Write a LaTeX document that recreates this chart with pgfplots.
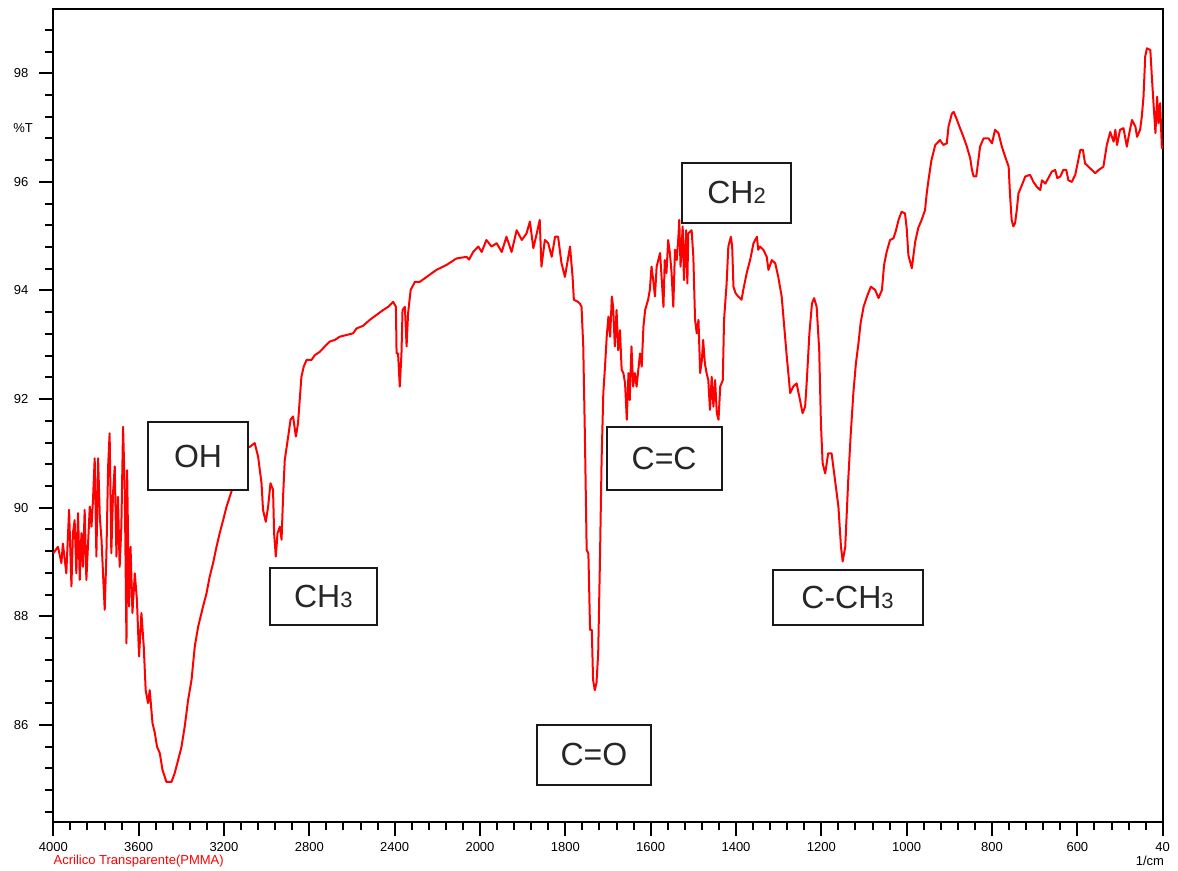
\documentclass[border=0pt]{standalone}
\usepackage{fontspec}
\setmainfont{Liberation Sans}
\usepackage{pgfplots}
\usepackage{pgfplotstable}
\pgfplotsset{compat=1.18}

% FTIR spectrum, wavenumber (1/cm) vs %T
\pgfplotstableread{
w t
4000 89.16
3978 89.28
3962 88.98
3955 89.34
3939 88.79
3926 89.96
3915 88.55
3908 89.53
3900 89.77
3892 88.79
3884 89.90
3876 88.67
3868 89.53
3861 88.91
3853 89.96
3845 88.67
3837 89.34
3829 90.02
3821 89.65
3814 90.14
3806 90.91
3798 89.10
3790 90.91
3782 89.83
3774 89.41
3767 88.79
3759 88.12
3751 89.16
3743 90.76
3736 91.37
3728 89.16
3720 90.27
3712 90.76
3704 89.10
3697 90.20
3689 88.91
3681 89.65
3673 91.49
3665 90.33
3657 87.50
3654 90.69
3645 88.18
3638 89.28
3629 88.06
3618 88.79
3608 88.30
3598 87.26
3587 88.06
3576 87.44
3567 86.64
3556 86.40
3548 86.64
3535 86.03
3524 85.85
3514 85.60
3501 85.48
3488 85.17
3470 84.95
3446 84.95
3431 85.11
3415 85.35
3399 85.60
3384 85.97
3368 86.46
3352 86.83
3337 87.44
3321 87.81
3298 88.18
3282 88.42
3267 88.73
3251 88.98
3235 89.28
3220 89.53
3204 89.77
3188 90.02
3173 90.20
3157 90.39
3126 90.76
3087 91.12
3079 91.12
3056 91.19
3040 90.94
3024 90.45
3017 89.96
3004 89.74
2993 90.02
2982 90.45
2970 90.33
2965 89.53
2957 89.10
2949 89.53
2938 89.65
2930 89.41
2923 90.20
2915 90.88
2899 91.31
2888 91.62
2876 91.68
2863 91.31
2853 91.55
2845 91.98
2837 92.41
2826 92.60
2813 92.72
2790 92.72
2774 92.81
2751 92.87
2727 92.97
2704 93.06
2680 93.09
2657 93.15
2626 93.18
2595 93.21
2579 93.30
2548 93.35
2516 93.46
2485 93.55
2454 93.64
2430 93.70
2407 93.79
2394 93.70
2391 92.84
2384 92.84
2376 92.23
2368 92.84
2363 93.64
2352 93.70
2344 92.97
2337 93.58
2325 94.01
2305 94.16
2282 94.16
2250 94.25
2204 94.38
2157 94.47
2110 94.59
2063 94.62
2051 94.57
2032 94.71
2008 94.81
1996 94.71
1985 94.93
1973 94.81
1961 94.87
1949 94.71
1938 94.99
1926 94.71
1914 95.11
1902 94.93
1891 95.05
1883 95.27
1875 94.78
1867 95.05
1860 95.30
1856 94.44
1848 94.93
1840 94.87
1832 94.62
1824 94.99
1817 94.99
1809 94.50
1801 94.25
1793 94.62
1789 94.81
1783 94.25
1780 93.83
1770 93.79
1766 93.76
1762 93.70
1758 92.97
1754 91.25
1750 89.22
1746 89.16
1742 87.75
1738 87.75
1735 86.83
1731 86.64
1727 86.77
1723 87.32
1719 88.98
1715 90.88
1711 92.11
1707 92.60
1703 93.15
1699 93.52
1695 93.15
1691 93.89
1688 93.70
1684 92.97
1680 93.64
1676 92.90
1672 93.27
1668 92.54
1664 92.48
1660 92.29
1656 91.62
1652 92.48
1649 91.98
1645 92.97
1641 92.23
1637 92.48
1633 92.23
1625 92.84
1621 92.60
1617 93.33
1613 93.64
1606 93.83
1602 94.01
1598 94.44
1594 94.19
1590 93.89
1586 94.44
1578 94.69
1574 94.19
1570 93.70
1567 94.56
1563 94.32
1559 94.93
1555 94.69
1551 94.32
1547 93.70
1543 94.75
1539 94.56
1535 94.99
1533 95.30
1530 94.44
1525 95.18
1522 94.19
1517 95.11
1514 94.13
1512 95.05
1504 95.11
1500 94.62
1496 93.46
1492 93.21
1488 93.46
1484 92.48
1480 92.72
1477 93.09
1473 92.66
1469 92.48
1465 92.35
1461 91.80
1457 92.41
1453 91.86
1449 92.35
1445 91.74
1441 91.62
1437 92.23
1431 92.35
1428 93.46
1422 94.13
1418 94.81
1412 94.99
1409 94.81
1406 94.07
1401 93.95
1395 93.89
1387 93.83
1383 94.01
1375 94.32
1367 94.56
1359 94.87
1351 94.99
1348 94.75
1344 94.81
1336 94.75
1328 94.62
1324 94.38
1316 94.56
1308 94.50
1301 94.25
1293 93.89
1289 93.52
1281 92.78
1273 92.11
1266 92.23
1258 92.29
1250 91.98
1244 91.74
1238 91.86
1234 92.35
1228 93.21
1222 93.76
1217 93.86
1211 93.70
1205 92.90
1201 91.55
1197 90.82
1191 90.63
1184 91.00
1176 91.00
1168 90.51
1160 90.02
1154 89.28
1150 89.01
1144 89.28
1137 90.51
1131 91.37
1125 92.11
1119 92.66
1113 93.03
1108 93.40
1101 93.70
1093 93.89
1084 94.07
1074 94.01
1066 93.86
1058 94.01
1053 94.47
1047 94.71
1039 94.93
1031 94.96
1025 95.11
1019 95.30
1012 95.45
1004 95.42
1000 95.15
996 94.65
988 94.41
980 94.90
973 95.15
965 95.30
957 95.48
953 95.79
949 96.03
942 96.40
933 96.68
922 96.77
914 96.68
906 96.71
902 97.02
894 97.26
890 97.29
882 97.14
875 96.99
867 96.83
859 96.65
851 96.43
847 96.22
843 96.10
837 96.10
832 96.40
828 96.65
820 96.80
808 96.80
800 96.71
793 96.96
785 96.90
777 96.65
769 96.46
761 96.28
758 95.79
754 95.30
750 95.18
746 95.24
742 95.48
738 95.79
730 95.94
722 96.10
711 96.13
703 96.00
695 95.91
687 95.85
683 96.03
675 95.97
668 96.07
660 96.19
652 96.22
647 96.07
640 96.10
633 96.22
626 96.22
621 96.03
613 96.00
605 96.13
601 96.28
593 96.59
587 96.59
582 96.34
574 96.28
566 96.22
558 96.16
550 96.22
539 96.28
531 96.68
523 96.92
515 96.74
511 96.96
507 96.68
500 96.96
492 96.99
484 96.65
480 96.83
472 97.14
464 97.02
460 96.83
453 96.96
449 97.20
445 97.57
441 98.31
437 98.46
429 98.43
425 97.88
421 97.38
417 96.90
413 97.57
410 97.08
406 97.45
402 96.62
400 96.65
}\spectrum

\tikzset{peak/.style={draw=black!90, line width=1pt, fill=white, inner sep=0pt,
    text=black!85, font=\fontsize{16}{16}\selectfont}}
\newcommand{\sub}[1]{{\fontsize{11}{11}\selectfont #1}}

\begin{document}
\begin{tikzpicture}
\begin{axis}[
    width=554.7pt, height=406.4pt, scale only axis,
    xmin=0, xmax=13, ymin=84.22, ymax=99.19,
    axis line style={line width=1pt},
    xtick={0,...,13},
    xticklabels={4000,3600,3200,2800,2400,2000,1800,1600,1400,1200,1000,800,600,40},
    minor x tick num=4,
    ytick={86,88,90,92,94,96,98},
    yticklabels={86,88,90,92,94,96,98},
    minor ytick={84.4,84.8,...,98.8},
    tick pos=left, tick align=outside,
    major tick length=7pt, minor tick length=4pt,
    tick style={line width=1pt, black},
    ticklabel style={font=\fontsize{6.5}{7}\selectfont},
    yticklabel style={xshift=-2pt},
    clip=false,
]
% scale changes at 2000 1/cm: 400 per division above, 200 per division below
\addplot[red, line width=1pt, line join=round] table[
    x expr={\thisrow{w}>=2000 ? (4000-\thisrow{w})/400 : 5+(2000-\thisrow{w})/200},
    y=t] {\spectrum};

\node[peak, minimum width=50pt, minimum height=34pt] at (axis cs:1.696,90.95) {OH};
\node[peak, minimum width=53.5pt, minimum height=28.5pt] at (axis cs:3.164,88.36) {CH\sub{3}};
\node[peak, minimum width=57pt, minimum height=30pt] at (axis cs:6.335,85.45) {C=O};
\node[peak, minimum width=57.5pt, minimum height=31.5pt] at (axis cs:7.158,90.90) {C=C};
\node[peak, minimum width=54.5pt, minimum height=30pt] at (axis cs:8.006,95.80) {CH\sub{2}};
\node[peak, minimum width=75pt, minimum height=27.5pt] at (axis cs:9.307,88.35) {C-CH\sub{3}};

\node[anchor=east, inner sep=0pt, font=\fontsize{6.5}{7}\selectfont] at ([xshift=-10pt]axis cs:0,97) {\%T};
\node[anchor=west, inner sep=0pt, text=red, font=\fontsize{6.5}{7}\selectfont] at ([yshift=-19.75pt]axis cs:0,84.22) {Acrilico Transparente(PMMA)};
\node[inner sep=0pt, font=\fontsize{6.5}{7}\selectfont] at ([yshift=-19.75pt]axis cs:12.85,84.22) {1/cm};
\end{axis}
\path (current axis.south west) ++(-26.65pt,-24.25pt) coordinate (bbA);
\path (current axis.north east) ++(7.65pt,4.35pt) coordinate (bbB);
\pgfresetboundingbox
\path[use as bounding box] (bbA) rectangle (bbB);
\end{tikzpicture}
\end{document}
